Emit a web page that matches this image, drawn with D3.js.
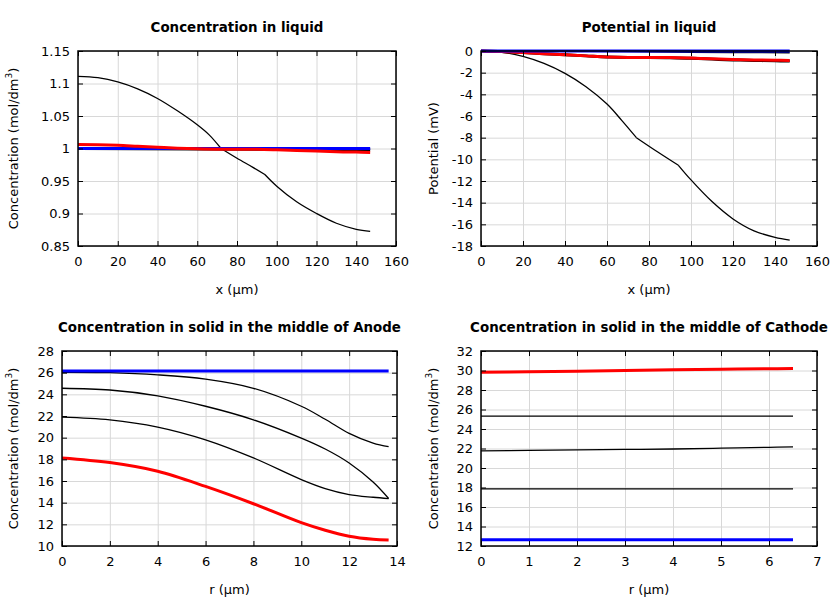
<!DOCTYPE html>
<html>
<head>
<meta charset="utf-8">
<script src="https://cdn.jsdelivr.net/npm/d3@7"></script>
<style>
  html, body { margin: 0; padding: 0; background: #fff; }
  svg { display: block; font-family: "DejaVu Sans", sans-serif; }
</style>
</head>
<body>
<svg id="chart" width="840" height="600"></svg>
<script>
// ---------- DATA ----------
// Panel 1: Concentration in liquid (x in µm, c in mol/dm3)
const liqX      = [0, 10, 20, 30, 40, 50, 60, 66, 72, 80, 88, 94, 100, 110, 120, 130, 140, 147];
const liqBlackThin = [1.111, 1.1089, 1.1025, 1.0918, 1.077, 1.058, 1.0365, 1.021, 1.0, 0.985, 0.971, 0.960, 0.942, 0.918, 0.900, 0.885, 0.8757, 0.8726];
const liqFlatX  = [0, 147];
const liqBlackThick = [1.0, 0.998];
const liqBlue   = [1.0, 1.0];
const liqRedX   = [0, 10, 20, 30, 40, 50, 60, 70, 80, 90, 100, 110, 120, 130, 140, 147];
const liqRed    = [1.006, 1.0058, 1.005, 1.0035, 1.002, 1.0005, 0.9995, 0.999, 0.999, 0.9988, 0.998, 0.997, 0.996, 0.995, 0.9945, 0.994];

// Panel 2: Potential in liquid (mV)
const potX      = [0, 10, 20, 30, 40, 50, 60, 67, 74, 84, 94, 100, 110, 120, 130, 140, 147];
const potBlackThin = [0, -0.12, -0.5, -1.15, -2.07, -3.3, -4.9, -6.4, -8.0, -9.3, -10.55, -11.9, -13.9, -15.5, -16.6, -17.2, -17.45];
const potBlack2X = [0, 50, 100, 147];
const potBlack2 = [0, -0.04, -0.12, -0.16];
const potRedX   = [0, 10, 20, 30, 40, 50, 60, 70, 80, 90, 100, 110, 120, 130, 140, 147];
const potRed    = [0, -0.05, -0.15, -0.25, -0.35, -0.45, -0.55, -0.6, -0.6, -0.6, -0.65, -0.72, -0.78, -0.82, -0.85, -0.87];
const potBlack3 = [0, -0.05, -0.15, -0.25, -0.35, -0.45, -0.55, -0.6, -0.6, -0.62, -0.68, -0.75, -0.82, -0.87, -0.91, -0.93];
const potBlueX  = [0, 147];
const potBlue   = [0, 0];

// Panel 3: Concentration in solid, anode (r in µm)
const anR       = [0, 2, 4, 6, 8, 10, 11, 12, 13, 13.65];
const anBlack1  = [26.04, 26.0, 25.8, 25.4, 24.56, 22.9, 21.7, 20.4, 19.5, 19.17];
const anBlack2  = [24.56, 24.4, 23.86, 22.9, 21.65, 19.96, 18.95, 17.66, 15.9, 14.38];
const anBlack3  = [21.9, 21.65, 20.98, 19.8, 18.13, 16.13, 15.3, 14.75, 14.5, 14.38];
const anRed     = [18.13, 17.7, 16.9, 15.5, 13.9, 12.15, 11.45, 10.9, 10.62, 10.55];
const anBlueR   = [0, 13.65];
const anBlue    = [26.16, 26.16];

// Panel 4: Concentration in solid, cathode
const caR       = [0, 1, 2, 3, 4, 5, 6, 6.5];
const caRed     = [29.82, 29.86, 29.92, 30.0, 30.08, 30.14, 30.18, 30.2];
const caBlack1  = [25.32, 25.32, 25.32, 25.32, 25.32, 25.32, 25.32, 25.32];
const caBlack2  = [21.75, 21.8, 21.85, 21.9, 21.95, 22.03, 22.12, 22.17];
const caBlack3  = [17.86, 17.86, 17.86, 17.86, 17.86, 17.86, 17.86, 17.86];
const caBlue    = [12.65, 12.65, 12.65, 12.65, 12.65, 12.65, 12.65, 12.65];

// Tick values
const xTicksLiq  = [0, 20, 40, 60, 80, 100, 120, 140, 160];
const yTicksConc = [0.85, 0.9, 0.95, 1.0, 1.05, 1.1, 1.15];
const yTicksPot  = [-18, -16, -14, -12, -10, -8, -6, -4, -2, 0];
const xTicksAn   = [0, 2, 4, 6, 8, 10, 12, 14];
const yTicksAn   = [10, 12, 14, 16, 18, 20, 22, 24, 26, 28];
const xTicksCa   = [0, 1, 2, 3, 4, 5, 6, 7];
const yTicksCa   = [12, 14, 16, 18, 20, 22, 24, 26, 28, 30, 32];

// Titles / labels
const titles = ["Concentration in liquid", "Potential in liquid",
                "Concentration in solid in the middle of Anode", "Concentration in solid in the middle of Cathode"];
const xLabels = ["x (\u00b5m)", "x (\u00b5m)", "r (\u00b5m)", "r (\u00b5m)"];

// ---------- DRAW ----------
const svg = d3.select("#chart");
const fmt = v => String(+v.toFixed(4));

const panels = [
  { box: [78, 396, 51, 246], xd: [0, 160], yd: [0.85, 1.15], xt: xTicksLiq, yt: yTicksConc, ylab: "conc",
    series: [
      { x: liqX, y: liqBlackThin, c: "#000", w: 1.3, kinks: [72, 94] },
      { x: liqFlatX, y: liqBlackThick, c: "#000", w: 3 },
      { x: liqFlatX, y: liqBlue, c: "#0000ff", w: 3 },
      { x: liqRedX, y: liqRed, c: "#ff0000", w: 3 }
    ]},
  { box: [481, 817, 51, 246], xd: [0, 160], yd: [-18, 0], xt: xTicksLiq, yt: yTicksPot, ylab: "Potential (mV)",
    series: [
      { x: potX, y: potBlackThin, c: "#000", w: 1.3, kinks: [74, 94] },
      { x: potBlack2X, y: potBlack2, c: "#000", w: 1.3 },
      { x: potRedX, y: potBlack3, c: "#000", w: 3 },
      { x: potRedX, y: potRed, c: "#ff0000", w: 3 },
      { x: potBlueX, y: potBlue, c: "#0000ff", w: 3 }
    ]},
  { box: [62, 397, 351, 546], xd: [0, 14], yd: [10, 28], xt: xTicksAn, yt: yTicksAn, ylab: "conc",
    series: [
      { x: anR, y: anBlack1, c: "#000", w: 1.3 },
      { x: anR, y: anBlack2, c: "#000", w: 1.3 },
      { x: anR, y: anBlack3, c: "#000", w: 1.3 },
      { x: anR, y: anRed, c: "#ff0000", w: 3 },
      { x: anBlueR, y: anBlue, c: "#0000ff", w: 3 }
    ]},
  { box: [481, 817, 351, 546], xd: [0, 7], yd: [12, 32], xt: xTicksCa, yt: yTicksCa, ylab: "conc",
    series: [
      { x: caR, y: caBlack1, c: "#000", w: 1.3 },
      { x: caR, y: caBlack2, c: "#000", w: 1.3 },
      { x: caR, y: caBlack3, c: "#000", w: 1.3 },
      { x: caR, y: caRed, c: "#ff0000", w: 3 },
      { x: caR, y: caBlue, c: "#0000ff", w: 3 }
    ]}
];

panels.forEach((p, i) => {
  const [L, R, T, B] = p.box;
  const W = R - L, H = B - T;
  const x = d3.scaleLinear().domain(p.xd).range([L, R]);
  const y = d3.scaleLinear().domain(p.yd).range([B, T]);
  const g = svg.append("g");

  // grid
  g.append("g").attr("transform", `translate(0,${B})`)
    .call(d3.axisBottom(x).tickValues(p.xt).tickSize(-H).tickFormat(""))
    .call(a => a.select(".domain").remove())
    .call(a => a.selectAll("line").attr("stroke", "#d8d8d8").attr("stroke-width", 1));
  g.append("g").attr("transform", `translate(${L},0)`)
    .call(d3.axisLeft(y).tickValues(p.yt).tickSize(-W).tickFormat(""))
    .call(a => a.select(".domain").remove())
    .call(a => a.selectAll("line").attr("stroke", "#d8d8d8").attr("stroke-width", 1));

  // lines
  const clipId = "clip" + i;
  svg.append("clipPath").attr("id", clipId).append("rect")
    .attr("x", L).attr("y", T - 2).attr("width", W).attr("height", H + 4);
  const lg = g.append("g").attr("clip-path", `url(#${clipId})`);
  const line = d3.line().x(d => x(d[0])).y(d => y(d[1])).curve(d3.curveCatmullRom.alpha(0.5));
  p.series.forEach(s => {
    const pts = s.x.map((xv, k) => [xv, s.y[k]]);
    // split into smooth segments at kink positions
    const segs = [];
    let cur = [];
    pts.forEach(pt => {
      cur.push(pt);
      if (s.kinks && s.kinks.includes(pt[0])) { segs.push(cur); cur = [pt]; }
    });
    if (cur.length > 1) segs.push(cur);
    lg.append("path")
      .attr("d", segs.map(sg => line(sg)).join(""))
      .attr("fill", "none").attr("stroke", s.c).attr("stroke-width", s.w)
      .attr("stroke-linejoin", "round");
  });

  // axes with inward ticks (all four sides)
  const styleAxis = a => {
    a.select(".domain").remove();
    a.selectAll("line").attr("stroke", "#000").attr("stroke-width", 1);
    a.selectAll("text").attr("font-size", 13).attr("fill", "#000").attr("font-family", "DejaVu Sans, sans-serif");
  };
  g.append("g").attr("transform", `translate(0,${B})`)
    .call(d3.axisBottom(x).tickValues(p.xt).tickSizeInner(-5).tickSizeOuter(0).tickPadding(11).tickFormat(fmt))
    .call(styleAxis);
  g.append("g").attr("transform", `translate(${L},0)`)
    .call(d3.axisLeft(y).tickValues(p.yt).tickSizeInner(-5).tickSizeOuter(0).tickPadding(8).tickFormat(fmt))
    .call(styleAxis);
  g.append("g").attr("transform", `translate(0,${T})`)
    .call(d3.axisTop(x).tickValues(p.xt).tickSizeInner(-5).tickSizeOuter(0).tickFormat(""))
    .call(styleAxis);
  g.append("g").attr("transform", `translate(${R},0)`)
    .call(d3.axisRight(y).tickValues(p.yt).tickSizeInner(-5).tickSizeOuter(0).tickFormat(""))
    .call(styleAxis);

  // frame
  g.append("rect").attr("x", L).attr("y", T).attr("width", W).attr("height", H)
    .attr("fill", "none").attr("stroke", "#000").attr("stroke-width", 1.5);

  // title
  g.append("text").attr("x", (L + R) / 2).attr("y", T - 19)
    .attr("text-anchor", "middle").attr("font-size", 13.4).attr("font-weight", "bold")
    .text(titles[i]);

  // x label
  g.append("text").attr("x", (L + R) / 2).attr("y", B + 48)
    .attr("text-anchor", "middle").attr("font-size", 13).text(xLabels[i]);

  // y label
  const ylx = (i % 2 === 0) ? 14 : 434;
  const yl = g.append("text")
    .attr("transform", `translate(${ylx},${(T + B) / 2}) rotate(-90)`)
    .attr("text-anchor", "middle").attr("dominant-baseline", "middle").attr("font-size", 13);
  if (p.ylab === "conc") {
    yl.append("tspan").text("Concentration (mol/dm");
    yl.append("tspan").attr("font-size", 9).attr("dy", -5).text("3");
    yl.append("tspan").attr("dy", 5).text(")");
  } else {
    yl.text(p.ylab);
  }
});
</script>
</body>
</html>
